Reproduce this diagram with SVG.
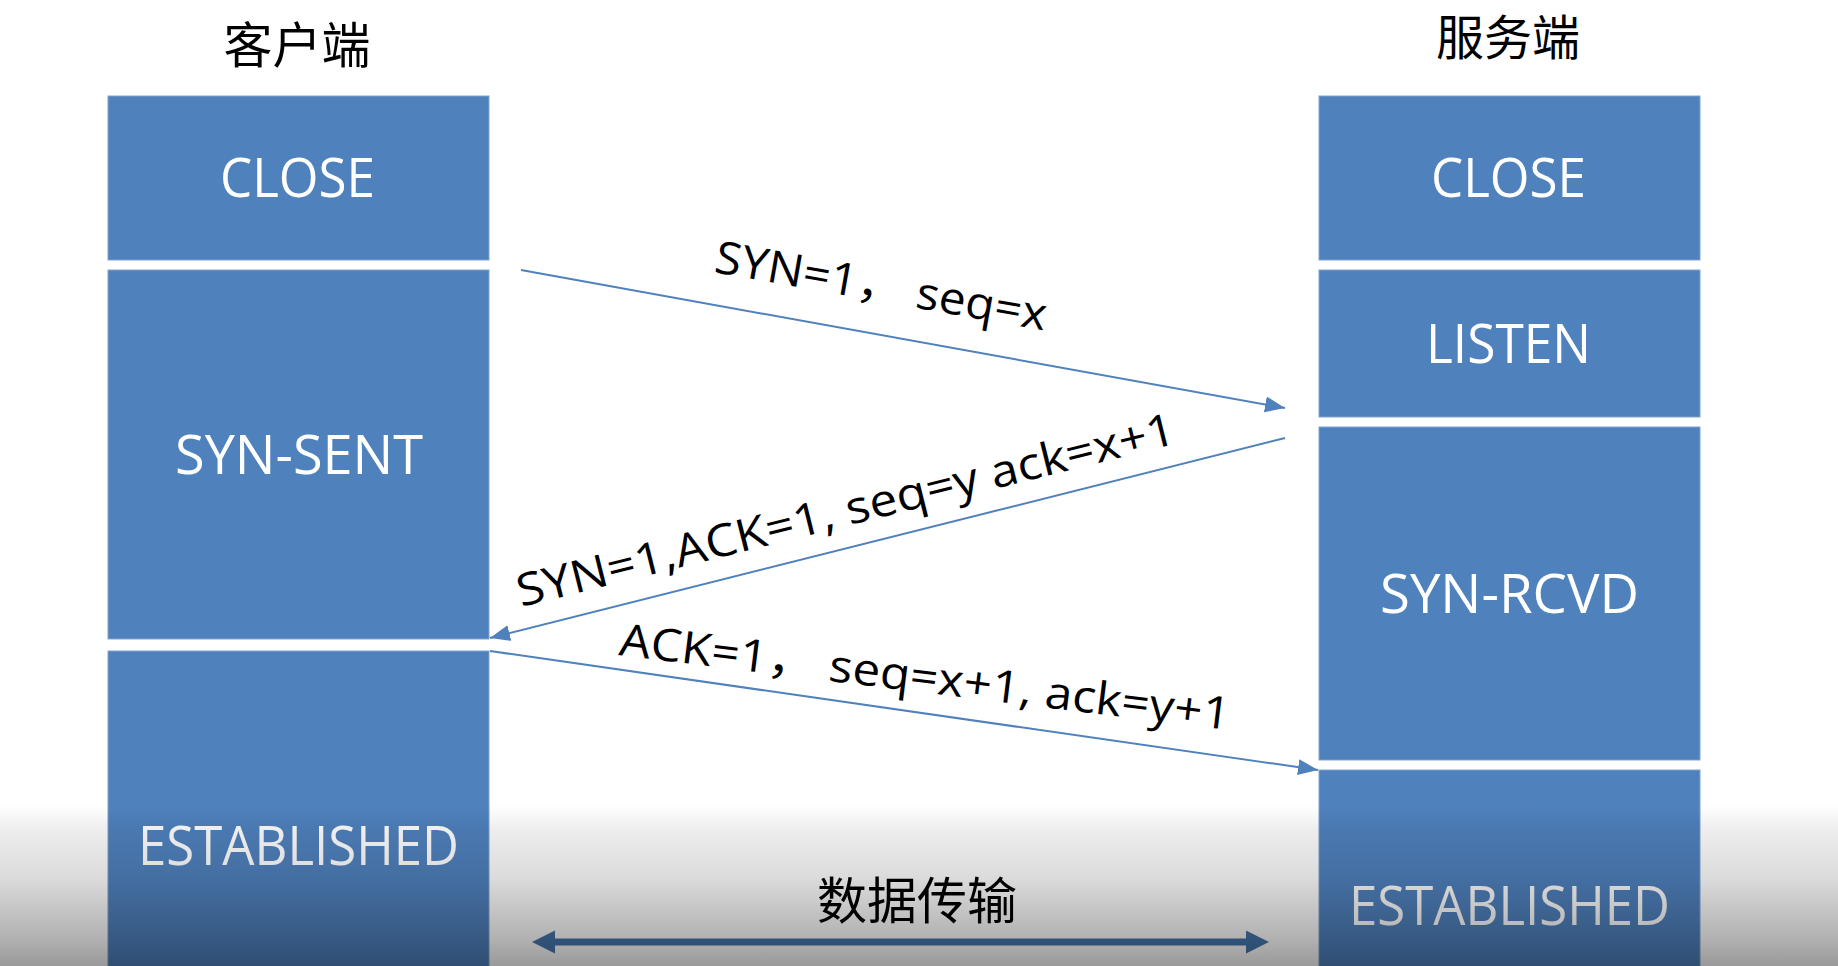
<svg xmlns="http://www.w3.org/2000/svg" width="1838" height="966" viewBox="0 0 1838 966">
<defs>
<style>
.box{fill:#4F81BD;stroke:#7fa3d2;stroke-width:1}
.state{font-family:"Open Sans","Noto Sans CJK SC",sans-serif;font-size:54px;fill:#ffffff}
.title{font-family:"Noto Sans CJK SC",sans-serif;font-size:49px;fill:#000000;text-anchor:middle}
.lbl{font-family:"Open Sans","Noto Sans CJK SC",sans-serif;font-size:45px;fill:#000000}
.conn{stroke:#4F81BD;stroke-width:2;fill:none}
.data{stroke:#4677ad;stroke-width:7;fill:none}
</style>
<marker id="head" markerUnits="userSpaceOnUse" markerWidth="22" markerHeight="18" refX="20" refY="8" orient="auto">
<path d="M0,0 L20,8 L0,16 z" fill="#4F81BD"/>
</marker>
<marker id="bighead" markerUnits="userSpaceOnUse" markerWidth="25" markerHeight="25" refX="1" refY="11.5" orient="auto-start-reverse">
<path d="M0,0 L23,11.5 L0,23 z" fill="#4677ad"/>
</marker>
<linearGradient id="shade" x1="0" y1="805" x2="0" y2="966" gradientUnits="userSpaceOnUse">
<stop offset="0" stop-color="#000" stop-opacity="0"/>
<stop offset="0.155" stop-color="#000" stop-opacity="0.07"/>
<stop offset="0.447" stop-color="#000" stop-opacity="0.14"/>
<stop offset="0.839" stop-color="#000" stop-opacity="0.31"/>
<stop offset="1" stop-color="#000" stop-opacity="0.40"/>
</linearGradient>
</defs>
<rect width="1838" height="966" fill="#ffffff"/>

<g id="title-client"><text class="title" x="297" y="63">客户端</text></g>
<g id="title-server"><text class="title" x="1508" y="55" style="font-size:48px">服务端</text></g>

<g id="client-close"><rect class="box" x="108" y="96" width="381" height="164"/><text class="state" x="220" y="197" textLength="155" lengthAdjust="spacingAndGlyphs">CLOSE</text></g>
<g id="client-synsent"><rect class="box" x="108" y="270" width="381" height="369"/><text class="state" x="175" y="474" textLength="248" lengthAdjust="spacingAndGlyphs">SYN-SENT</text></g>
<g id="client-established"><rect class="box" x="108" y="651" width="381" height="320"/><text class="state" x="138" y="865" textLength="321" lengthAdjust="spacingAndGlyphs">ESTABLISHED</text></g>

<g id="server-close"><rect class="box" x="1319" y="96" width="381" height="164"/><text class="state" x="1431" y="197" textLength="155" lengthAdjust="spacingAndGlyphs">CLOSE</text></g>
<g id="server-listen"><rect class="box" x="1319" y="270" width="381" height="147"/><text class="state" x="1426" y="363" textLength="165" lengthAdjust="spacingAndGlyphs">LISTEN</text></g>
<g id="server-synrcvd"><rect class="box" x="1319" y="427" width="381" height="333"/><text class="state" x="1380" y="613" textLength="259" lengthAdjust="spacingAndGlyphs">SYN-RCVD</text></g>
<g id="server-established"><rect class="box" x="1319" y="770" width="381" height="201"/><text class="state" x="1349" y="925" textLength="321" lengthAdjust="spacingAndGlyphs">ESTABLISHED</text></g>

<g id="connectors">
<line class="conn" x1="521" y1="270" x2="1285" y2="408" marker-end="url(#head)"/>
<line class="conn" x1="1285" y1="438" x2="490" y2="638" marker-end="url(#head)"/>
<line class="conn" x1="490" y1="651" x2="1318" y2="770" marker-end="url(#head)"/>
<line class="data" x1="554" y1="942" x2="1247" y2="942" marker-start="url(#bighead)" marker-end="url(#bighead)"/>
<text class="lbl" transform="translate(713,272) rotate(10)" textLength="336" lengthAdjust="spacingAndGlyphs">SYN=1， seq=x</text>
<text class="lbl" transform="translate(521,607) rotate(-14)" textLength="677" lengthAdjust="spacingAndGlyphs">SYN=1,ACK=1, seq=y ack=x+1</text>
<text class="lbl" transform="translate(618,655) rotate(7)" textLength="615" lengthAdjust="spacingAndGlyphs">ACK=1， seq=x+1, ack=y+1</text>
<text class="title" x="917" y="919" style="font-size:50px">数据传输</text>
</g>

<rect x="0" y="805" width="1838" height="161" fill="url(#shade)"/>
</svg>
